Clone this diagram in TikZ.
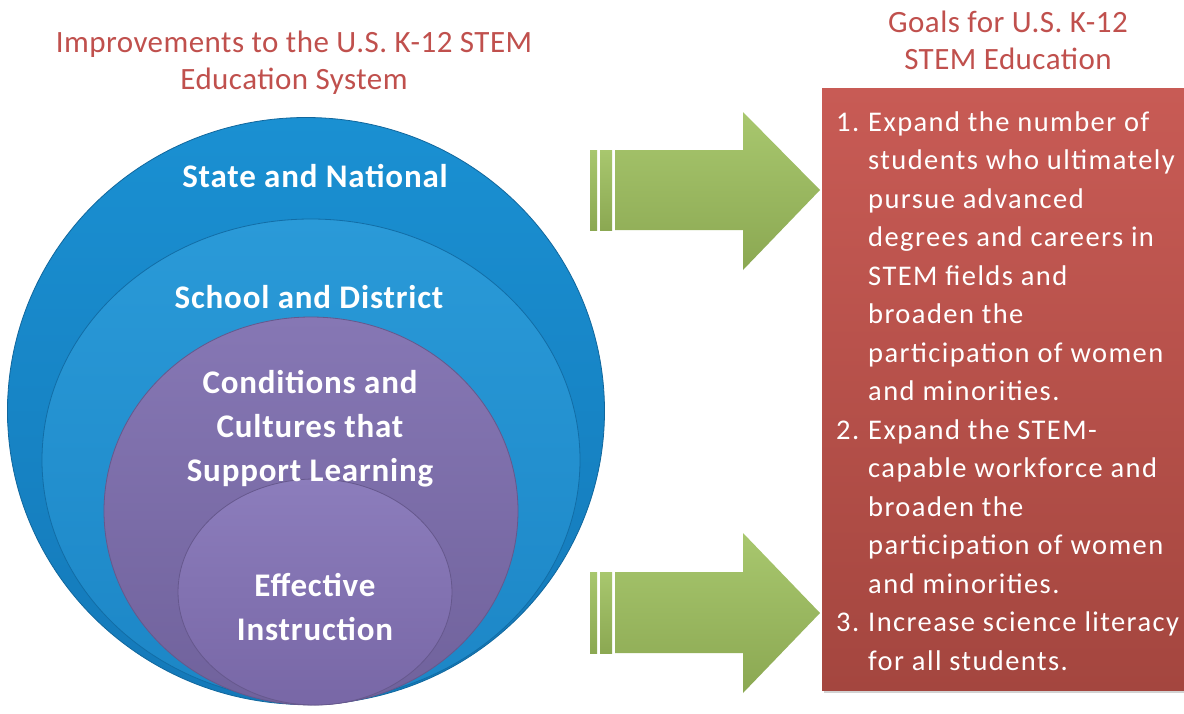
\documentclass[tikz,border=0pt]{standalone}
\usepackage{fontspec}
\setmainfont{Carlito}
\newfontfamily\hdrfont[LetterSpace=1.5]{Carlito}
\newfontfamily\boxfont[LetterSpace=5]{Carlito}
\newfontfamily\ringfont[LetterSpace=2.5]{Carlito}
\usetikzlibrary{shapes.geometric,shadows}
\definecolor{hdr}{HTML}{C0504D}
\definecolor{blueAtop}{HTML}{1A90D2}
\definecolor{blueAbot}{HTML}{1479B9}
\definecolor{blueBtop}{HTML}{2A9AD8}
\definecolor{blueBbot}{HTML}{1C86C6}
\definecolor{purCtop}{HTML}{8677B4}
\definecolor{purCbot}{HTML}{70629C}
\definecolor{purDtop}{HTML}{8C7DBC}
\definecolor{purDbot}{HTML}{7867A6}
\definecolor{boxtop}{HTML}{C85B55}
\definecolor{boxbot}{HTML}{A4463F}
\definecolor{grtop}{HTML}{A8C76E}
\definecolor{grbot}{HTML}{8BA852}
\tikzset{
  ring/.style={ellipse, inner sep=0pt, line width=0.8pt},
  ringtext/.style={text=white, font=\ringfont\fontsize{33}{44}\selectfont\bfseries, align=center},
  header/.style={text=hdr, font=\hdrfont\fontsize{31}{37}\selectfont, align=center},
  greenpart/.style={top color=grtop, bottom color=grbot, draw=none},
}
\begin{document}
\begin{tikzpicture}[x=1pt,y=-1pt]
\useasboundingbox (0,0) rectangle (1184,713);
\fill[white] (0,0) rectangle (1184,713);

% headers
\node[header] (h1) at (294,63) {Improvements to the U.S. K-12 STEM\\Education System};
\node[header] (h2) at (1008,40) {Goals for U.S. K-12\\STEM Education};

% nested ellipses
\node[ring, minimum width=597pt, minimum height=587pt, top color=blueAtop, bottom color=blueAbot, draw=blueAbot!85!black] (outer) at (306,411) {};
\node[ring, minimum width=538pt, minimum height=482pt, top color=blueBtop, bottom color=blueBbot, draw=blueAbot!90!black] (school) at (311,460) {};
\node[ring, minimum width=414pt, minimum height=388pt, top color=purCtop, bottom color=purCbot, draw=purCbot!90!black] (cond) at (311,511) {};
\node[ring, minimum width=274pt, minimum height=226pt, top color=purDtop, bottom color=purDbot, draw=purDbot!85!black] (eff) at (315,592) {};

\node[ringtext] (t1) at (315,176) {State and National};
\node[ringtext] (t2) at (309,297) {School and District};
\node[ringtext] (t3) at (310,429) {Conditions and\\Cultures that\\Support Learning};
\node[ringtext] (t4) at (315,607) {Effective\\Instruction};

% green arrows
\path[greenpart] (590,150) rectangle (597,230);
\path[greenpart] (600,150) rectangle (612,230);
\path[greenpart] (615,150) -- (743,150) -- (743,112) -- (820,190) -- (743,270) -- (743,230) -- (615,230) -- cycle;

\path[greenpart] (590,572) rectangle (597,653);
\path[greenpart] (600,572) rectangle (612,653);
\path[greenpart] (615,572) -- (743,572) -- (743,533) -- (820,613) -- (743,693) -- (743,653) -- (615,653) -- cycle;

% goals box
\node[anchor=north west, inner sep=0pt, minimum width=364pt, minimum height=602pt,
      top color=boxtop, bottom color=boxbot,
      drop shadow={shadow xshift=2pt, shadow yshift=-3pt, opacity=0.35}] (goals) at (822,88) {};
\node[anchor=base west, inner sep=0pt, text=white] (goaltext) at (836,131) {%
\boxfont\fontsize{28.5}{38.5}\selectfont
\begin{tabular}[t]{@{}p{32pt}@{}l@{}}
1. & Expand the number of\\
   & students who ultimately\\
   & pursue advanced\\
   & degrees and careers in\\
   & STEM fields and\\
   & broaden the\\
   & participation of women\\
   & and minorities.\\
2. & Expand the STEM-\\
   & capable workforce and\\
   & broaden the\\
   & participation of women\\
   & and minorities.\\
3. & Increase science literacy\\
   & for all students.
\end{tabular}};
\end{tikzpicture}
\end{document}
